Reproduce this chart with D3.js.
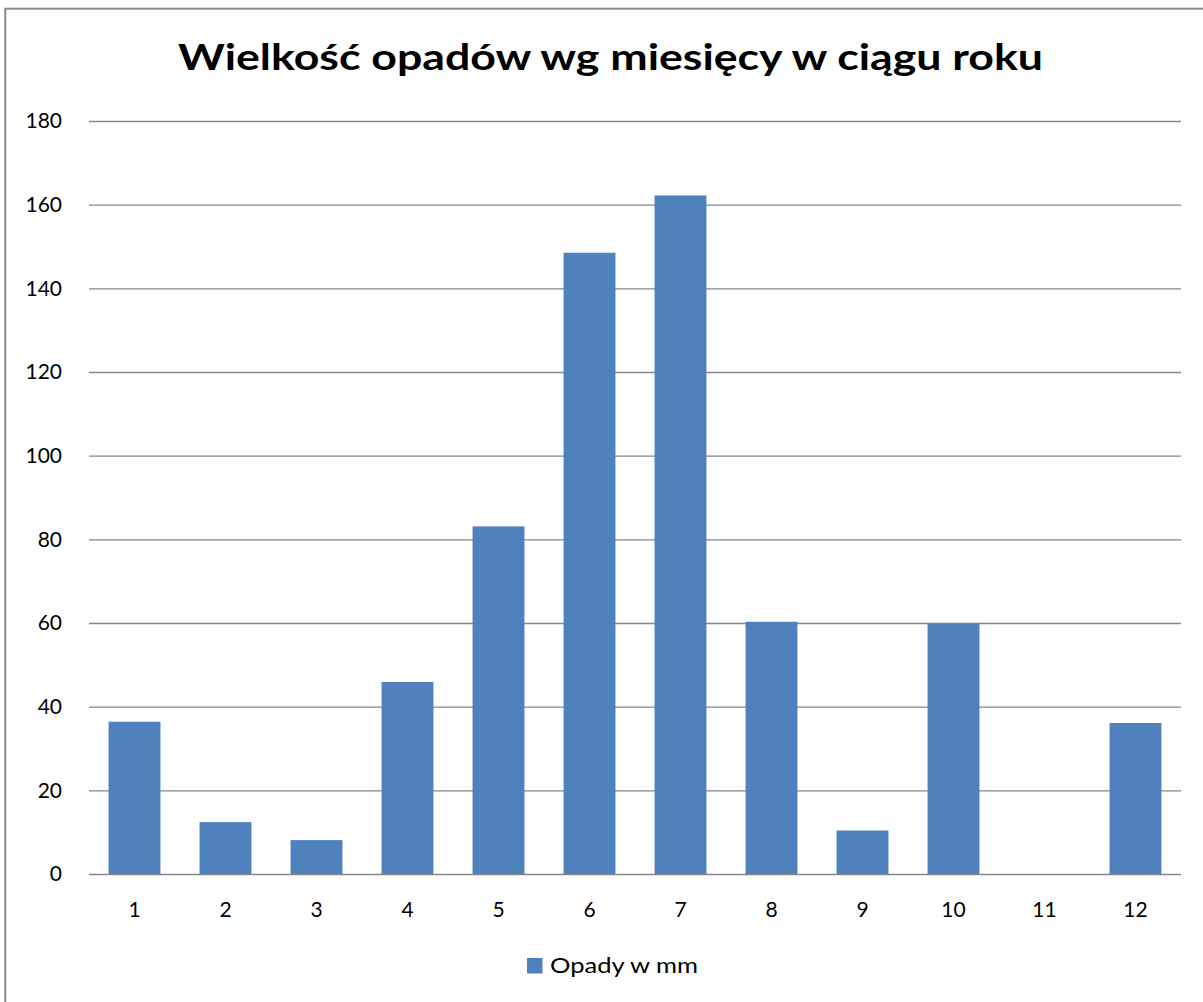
<!DOCTYPE html>
<html>
<head>
<meta charset="utf-8">
<script src="https://cdnjs.cloudflare.com/ajax/libs/d3/7.8.5/d3.min.js"></script>
<style>
  html, body { margin: 0; padding: 0; background: #fff; }
  svg { display: block; }
  text { font-family: Lato, "Open Sans", sans-serif; }
</style>
</head>
<body>
<div id="chart"></div>
<script>
// opady miesieczne (mm)
var months = ['1', '2', '3', '4', '5', '6', '7', '8', '9', '10', '11', '12'];
var rainfall = [36.4, 12.4, 8.1, 45.9, 83.1, 148.5, 162.2, 60.3, 10.4, 59.8, 0, 36.1];
var yTicks = [0, 20, 40, 60, 80, 100, 120, 140, 160, 180];
var seriesName = 'Opady w mm';
var title = 'Wielkość opadów wg miesięcy w ciągu roku';

var fullWidth = 1203, fullHeight = 1002;
var barColor = '#4f81bd';
var gridColor = '#868686';

var svg = d3.select('#chart').append('svg')
  .attr('width', fullWidth)
  .attr('height', fullHeight);

// ramka wykresu (prawa i dolna krawedz poza obrazem)
svg.append('rect')
  .attr('x', 5.3)
  .attr('y', 8.7)
  .attr('width', 1300)
  .attr('height', 1100)
  .attr('fill', '#fff')
  .attr('stroke', '#8a8a8a')
  .attr('stroke-width', 2);

var x = d3.scaleBand()
  .domain(months)
  .range([89, 1181])
  .paddingInner(0.43)
  .paddingOuter(0.215);

var y = d3.scaleLinear()
  .domain([0, 180])
  .range([874, 121]);

// linie siatki + etykiety osi Y
var yAxis = d3.axisLeft(y)
  .tickValues(yTicks)
  .tickSize(-(1181 - 89))
  .tickPadding(27);

var yAxisEle = svg.append('g')
  .attr('transform', 'translate(89,0)')
  .call(yAxis);
yAxisEle.select('.domain').remove();
yAxisEle.selectAll('.tick line')
  .attr('stroke', gridColor)
  .attr('stroke-width', 1.4);
yAxisEle.selectAll('.tick text')
  .attr('fill', '#000')
  .style('font-size', '21px');

// slupki
svg.append('g')
  .selectAll('rect.bar')
  .data(rainfall)
  .enter()
  .append('rect')
  .classed('bar', true)
  .attr('x', function(d, i) { return x(months[i]); })
  .attr('width', x.bandwidth())
  .attr('y', function(d) { return y(d); })
  .attr('height', function(d) { return y(0) - y(d); })
  .attr('fill', barColor);

// os X (same etykiety, bez kresek)
var xAxisEle = svg.append('g')
  .attr('transform', 'translate(0,' + y(0) + ')')
  .call(d3.axisBottom(x).tickSize(0));
xAxisEle.select('.domain').remove();
xAxisEle.selectAll('.tick text')
  .attr('y', 43)
  .attr('dy', 0)
  .attr('fill', '#000')
  .style('font-size', '21px');

// tytul (szerokosc jak w oryginale ~865px)
svg.append('text')
  .attr('x', 610.5)
  .attr('y', 69.5)
  .attr('text-anchor', 'middle')
  .attr('textLength', 865)
  .attr('lengthAdjust', 'spacingAndGlyphs')
  .style('font-weight', 'bold')
  .style('font-size', '36px')
  .text(title);

// legenda
var legend = svg.append('g');
legend.append('rect')
  .attr('x', 527)
  .attr('y', 958)
  .attr('width', 15.5)
  .attr('height', 15.5)
  .attr('fill', barColor);
legend.append('text')
  .attr('x', 550)
  .attr('y', 973)
  .attr('textLength', 148)
  .attr('lengthAdjust', 'spacingAndGlyphs')
  .attr('fill', '#000')
  .style('font-size', '21px')
  .text(seriesName);
</script>
</body>
</html>
